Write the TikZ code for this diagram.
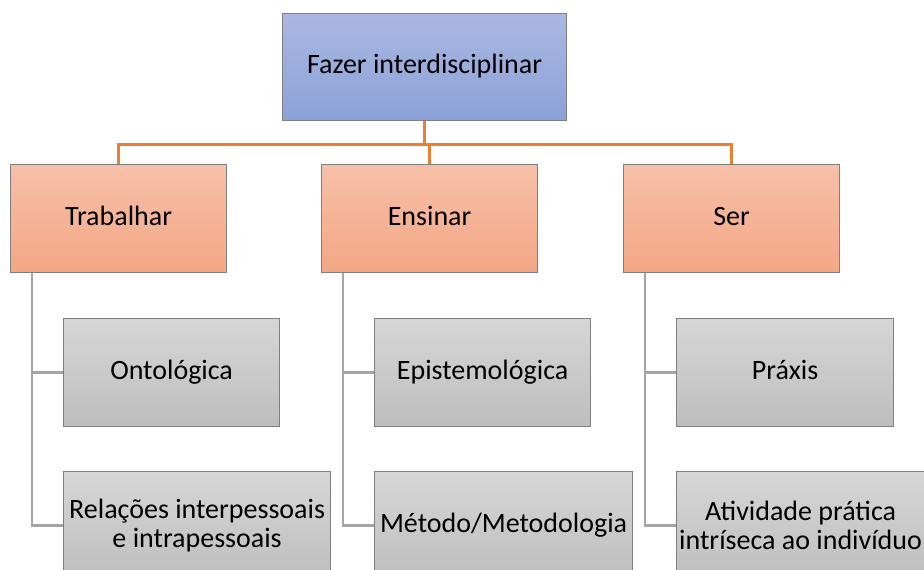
\documentclass[tikz,border=0pt]{standalone}
\usepackage{fontspec}
\setmainfont{Carlito}
\usepackage{xcolor}
\definecolor{TOPcolorA}{HTML}{AAB8E2}
\definecolor{TOPcolorB}{HTML}{8BA1D8}
\definecolor{MIDcolorA}{HTML}{F6C0A8}
\definecolor{MIDcolorB}{HTML}{F4A785}
\definecolor{LOWcolorA}{HTML}{D6D6D6}
\definecolor{LOWcolorB}{HTML}{BEBEBE}
\definecolor{BOXline}{HTML}{7F7F7F}
\definecolor{ORANGEline}{HTML}{ED7D31}
\definecolor{GRAYline}{HTML}{A5A5A5}
\usetikzlibrary{math}

\begin{document}
\begin{tikzpicture}[x=1pt, y=-1pt,
    font=\fontsize{28}{29}\selectfont,
    box/.style={draw=BOXline, line width=1.2pt, anchor=north west,
        align=center, inner sep=0pt},
    oneline/.style={text height=19pt, text depth=6pt},
    topbox/.style={box, oneline, top color=TOPcolorA, bottom color=TOPcolorB},
    midbox/.style={box, oneline, top color=MIDcolorA, bottom color=MIDcolorB,
        minimum width=216pt, minimum height=108pt},
    lowbox/.style={box, top color=LOWcolorA, bottom color=LOWcolorB,
        minimum height=108pt},
    orangeline/.style={draw=ORANGEline, line width=2.6pt},
    grayline/.style={draw=GRAYline, line width=2.6pt}]
    \tikzmath{%
        \wfig=924;
        \hfig=570;
        \ytop=13;
        \ymid=164;
        \ylowA=318;
        \ylowB=471;
        \dtrunk=22;
    };

    \useasboundingbox (0, 0) rectangle (\wfig, \hfig);

    % top
    \node [topbox, minimum width=284pt, minimum height=107pt] (fazer) at (282, \ytop) {Fazer interdisciplinar};

    % middle row
    \node [midbox] (trabalhar) at (10, \ymid) {Trabalhar};
    \node [midbox] (ensinar) at (321, \ymid) {Ensinar};
    \node [midbox] (ser) at (623, \ymid) {Ser};

    % low rows
    \node [lowbox, oneline, minimum width=216pt] (ontologica) at (63, \ylowA) {Ontológica};
    \node [lowbox, minimum width=267pt] (relacoes) at (63, \ylowB) {Relações interpessoais\\e intrapessoais};
    \node [lowbox, oneline, minimum width=216pt] (epistemologica) at (374, \ylowA) {Epistemológica};
    \node [lowbox, oneline, minimum width=258pt] (metodo) at (374, \ylowB) {Método/Metodologia};
    \node [lowbox, oneline, minimum width=217pt] (praxis) at (676, \ylowA) {Práxis};
    \node [lowbox, minimum width=248pt] (atividade) at (676, \ylowB) {Atividade prática\\intríseca ao indivíduo};

    % orange connectors
    \draw [orangeline] (fazer.south) -- ++(0, 23) coordinate (hub);
    \draw [orangeline] (hub) -| (trabalhar.north);
    \draw [orangeline] (hub) -| (ensinar.north);
    \draw [orangeline] (hub) -| (ser.north);

    % gray connectors
    \foreach \up/\first/\second in {trabalhar/ontologica/relacoes, ensinar/epistemologica/metodo, ser/praxis/atividade} {%
            \draw [grayline] ([xshift=\dtrunk pt]\up.south west) |- (\first.west);
            \draw [grayline] ([xshift=\dtrunk pt]\up.south west) |- (\second.west);
        }

\end{tikzpicture}
\end{document}
